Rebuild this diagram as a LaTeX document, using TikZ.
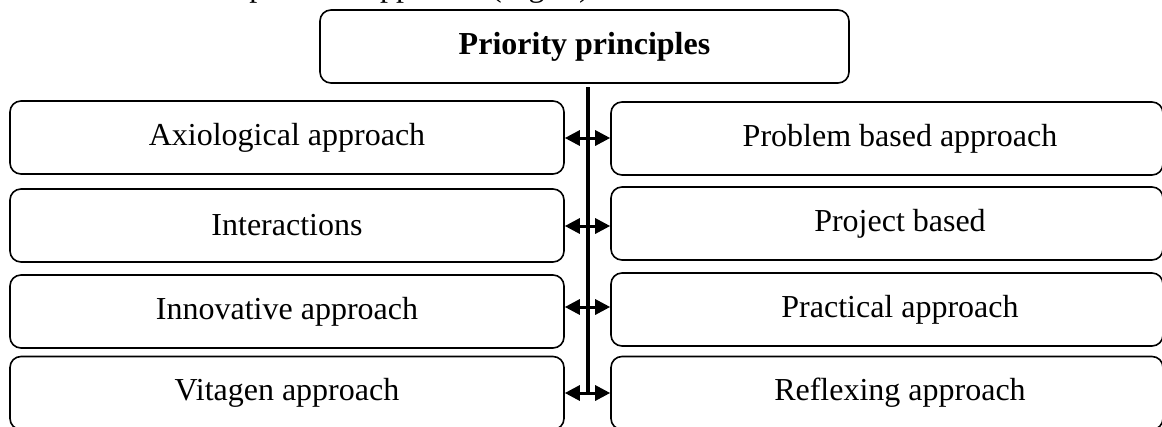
\documentclass[tikz,border=0pt]{standalone}
\usepackage{fontspec}
\setmainfont{Liberation Serif}
\usetikzlibrary{arrows.meta}
\begin{document}
\begin{tikzpicture}[x=1pt,y=1pt,
  box/.style={draw,line width=1.6pt,rounded corners=11pt,minimum height=73pt,
    inner sep=0pt,font=\fontsize{32}{38}\selectfont},
  lbox/.style={box,minimum width=554pt},
  rbox/.style={box,minimum width=552pt},
  link/.style={line width=3pt,{Triangle[length=15pt,width=15pt]}-{Triangle[length=15pt,width=15pt]}},
  trunk/.style={line width=3.5pt}]
\useasboundingbox (0,0) rectangle (1162,-426);
\clip (0,0) rectangle (1162,-426);
\node[anchor=base east,font=\fontsize{32}{38}\selectfont,inner sep=0pt] (txt) at (590,4) {personal approach (Fig. 2)};
\node[box,minimum width=529pt,font=\fontsize{32}{38}\selectfont\bfseries] (top) at (584.5,-46.5) {Priority principles};
\node[lbox] (L1) at (287,-137.5) {Axiological approach};
\node[lbox] (L2) at (287,-225.5) {Interactions};
\node[lbox] (L3) at (287,-311.5) {Innovative approach};
\node[lbox] (L4) at (287,-393) {Vitagen approach};
\node[rbox] (R1) at (887,-138.5) {\hspace*{26pt}Problem based approach};
\node[rbox] (R2) at (887,-223.5) {\hspace*{26pt}Project based};
\node[rbox] (R3) at (887,-309.5) {\hspace*{26pt}Practical approach};
\node[rbox] (R4) at (887,-393) {\hspace*{26pt}Reflexing approach};
\coordinate (vtop) at (588,-87);
\draw[trunk] (vtop) -- (vtop |- L4.east);
\draw[link] (L1.east |- 0,-138) -- (R1.west |- 0,-138);
\draw[link] (L2.east |- 0,-226) -- (R2.west |- 0,-226);
\draw[link] (L3.east |- 0,-307) -- (R3.west |- 0,-307);
\draw[link] (L4.east) -- (R4.west);
\end{tikzpicture}
\end{document}
